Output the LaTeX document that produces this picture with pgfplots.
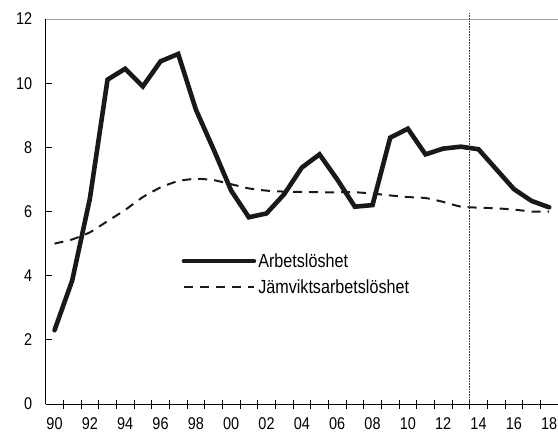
\documentclass[border=0pt]{standalone}
\usepackage{fontspec}
\setmainfont{Liberation Sans}[FakeStretch=0.85]
\usepackage{pgfplots}
\pgfplotsset{compat=1.18}
\begin{document}
\begin{tikzpicture}
\begin{axis}[
  scale only axis,
  width=512.3pt, height=385pt,
  xmin=1989.5, xmax=2018.5,
  ymin=0, ymax=12,
  axis x line*=bottom, axis y line*=left,
  axis line style={-, black, line width=0.8pt},
  xtick={1990,1992,...,2018},
  xticklabels={90,92,94,96,98,00,02,04,06,08,10,12,14,16,18},
  major x tick style={draw=none},
  minor xtick={1990.5,1991.5,...,2017.5},
  minor tick length=9pt,
  minor x tick style={draw=black, line width=0.8pt, yshift=-4.5pt},
  ytick={0,2,...,12},
  major tick length=6pt,
  tick align=inside,
  ytick style={black, line width=0.8pt},
  /pgf/number format/assume math mode=true,
  tick label style={font=\fontsize{17}{20}\selectfont, black},
  yticklabel style={xshift=-10pt},
  xticklabel style={yshift=-10pt},
  clip=false,
  legend cell align=left,
  legend style={draw=none, fill=none, at={(rel axis cs:0.265,0.337)}, anchor=west,
    font=\fontsize{19}{22}\selectfont, row sep=7pt, inner sep=0pt},
  legend image code/.code={\draw[#1] (0pt,0pt) -- (70pt,0pt);},
]
\draw[gray!70, line width=0.6pt] (rel axis cs:0,1) -- (rel axis cs:1,1);
\draw[black!80, densely dotted, line width=0.6pt] (axis cs:2013.5,0) -- (axis cs:2013.5,12.2);
\addplot[black!90, line width=4.6pt, line cap=round, line join=miter] coordinates {
(1990,2.30) (1991,3.85) (1992,6.40) (1993,10.11) (1994,10.45) (1995,9.90)
(1996,10.68) (1997,10.91) (1998,9.18) (1999,7.94) (2000,6.65) (2001,5.82)
(2002,5.94) (2003,6.54) (2004,7.37) (2005,7.78) (2006,7.00) (2007,6.15)
(2008,6.20) (2009,8.30) (2010,8.58) (2011,7.78) (2012,7.96) (2013,8.02)
(2014,7.94) (2015,7.32) (2016,6.70) (2017,6.33) (2018,6.13)
};
\addlegendentry{Arbetslöshet}
\addplot[black!90, line width=2pt, dash pattern=on 9pt off 7pt, smooth, tension=0.3] coordinates {
(1990,5.00) (1991,5.13) (1992,5.35) (1993,5.70) (1994,6.05) (1995,6.45)
(1996,6.75) (1997,6.95) (1998,7.02) (1999,6.98) (2000,6.85) (2001,6.72)
(2002,6.65) (2003,6.62) (2004,6.61) (2005,6.60) (2006,6.60) (2007,6.60)
(2008,6.56) (2009,6.50) (2010,6.45) (2011,6.42) (2012,6.30) (2013,6.15)
(2014,6.12) (2015,6.10) (2016,6.06) (2017,6.00) (2018,6.00)
};
\addlegendentry{Jämviktsarbetslöshet}
\end{axis}
\pgfresetboundingbox
\path ([xshift=-45.7pt,yshift=-32pt]current axis.south west) rectangle ([yshift=19pt]current axis.north east);
\end{tikzpicture}
\end{document}
